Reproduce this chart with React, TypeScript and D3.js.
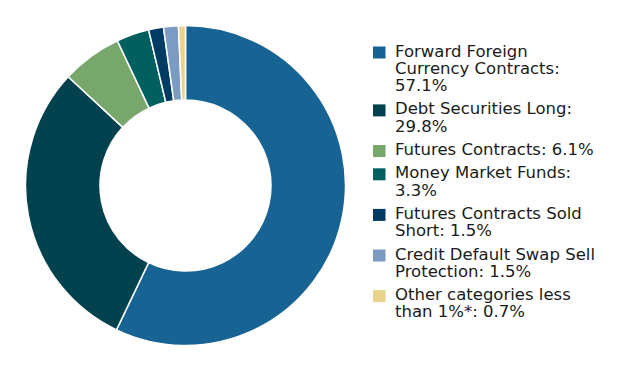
import React from "react";
import * as d3 from "d3";

const categories = [
  "Forward Foreign Currency Contracts",
  "Debt Securities Long",
  "Futures Contracts",
  "Money Market Funds",
  "Futures Contracts Sold Short",
  "Credit Default Swap Sell Protection",
  "Other categories less than 1%*",
];
const values = [57.1, 29.8, 6.1, 3.3, 1.5, 1.5, 0.7];
const colors = [
  "#176394",
  "#02424f",
  "#78a76c",
  "#00605f",
  "#003b63",
  "#7b9bc3",
  "#e9d38a",
];

const width = 627;
const height = 371;
const FONT = "16.5px 'DejaVu Sans', sans-serif";

let ctx: CanvasRenderingContext2D | null = null;
const measure = (s: string) => {
  if (!ctx) ctx = document.createElement("canvas").getContext("2d");
  ctx!.font = FONT;
  return ctx!.measureText(s).width;
};

// split a label into lines no wider than maxW
const wrap = (text: string, maxW: number) => {
  const words = text.split(" ");
  const lines: string[] = [];
  let cur = "";
  words.forEach((w) => {
    const next = cur ? cur + " " + w : w;
    if (cur && measure(next) > maxW) {
      lines.push(cur);
      cur = w;
    } else cur = next;
  });
  if (cur) lines.push(cur);
  return lines;
};

const App = () => {
  const cx = 185.5;
  const cy = 185.5;
  const outer = 160;
  const inner = 85.5;

  const data = categories.map((c, i) => ({ name: c, value: values[i], color: colors[i] }));
  const pie = d3
    .pie<{ name: string; value: number; color: string }>()
    .value((d) => d.value)
    .sort(null);
  const arc = d3
    .arc<d3.PieArcDatum<{ name: string; value: number; color: string }>>()
    .innerRadius(inner)
    .outerRadius(outer);
  const arcs = pie(data);

  const lineH = 17.3;
  const itemGap = 6;
  let y = 51;
  const legend = data.map((d) => {
    const lines = wrap(`${d.name}: ${d.value.toFixed(1)}%`, 210);
    const item = { ...d, lines, y };
    y += lines.length * lineH + itemGap;
    return item;
  });

  return (
    <div style={{ position: "absolute", left: 0, top: 0 }}>
      <svg width={width} height={height} style={{ display: "block", background: "#fff" }}>
        <g transform={`translate(${cx},${cy})`}>
          {arcs.map((a, i) => (
            <path key={i} d={arc(a) || ""} fill={a.data.color} stroke="#fff" strokeWidth={1.5} />
          ))}
        </g>
        <g style={{ font: FONT }} fill="#1a1a1a">
          {legend.map((d, i) => (
            <g key={i}>
              <rect x={373} y={d.y - 4.5} width={12.5} height={12} fill={d.color} />
              {d.lines.map((l, j) => (
                <text key={j} x={395} y={d.y + j * lineH} dominantBaseline="central">
                  {l}
                </text>
              ))}
            </g>
          ))}
        </g>
      </svg>
    </div>
  );
};

export default App;
